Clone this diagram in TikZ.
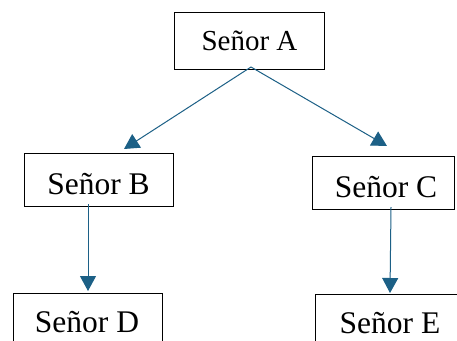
\documentclass[tikz,border=0pt]{standalone}
\usepackage{fontspec}
\setmainfont{Liberation Serif}
\usetikzlibrary{arrows.meta}
\definecolor{arrowblue}{RGB}{28,96,134}
\begin{document}
\begin{tikzpicture}[x=1pt,y=-1pt,
  box/.style={draw=black,line width=0.9pt,minimum width=#1,minimum height=53pt,inner sep=0pt,anchor=north west},
  lbl/.style={font=\fontsize{31.5}{36}\selectfont,inner sep=0pt,anchor=base},
  lblA/.style={font=\fontsize{29}{34}\selectfont,inner sep=0pt,anchor=base},
  conn/.style={draw=arrowblue,line width=1pt,-{Triangle[length=15pt,width=16pt]}}]
\useasboundingbox (0,0) rectangle (457,340);
\clip (0,0) rectangle (457,340);
\fill[white] (0,0) rectangle (457,340);
% boxes
\node[box=150pt,minimum height=57pt] (A) at (174,12) {};
\node[box=149pt] (B) at (24,153) {};
\node[box=142pt] (C) at (312,156) {};
\node[box=149pt] (D) at (13,293) {};
\node[box=150pt] (E) at (315,294) {};
% labels
\node[lblA] (At) at (249.5,50) {Señor A};
\node[lbl] (Bt) at (98.5,194) {Señor B};
\node[lbl] (Ct) at (386,197) {Señor C};
\node[lbl] (Dt) at (87,332) {Señor D};
\node[lbl] (Et) at (390,333) {Señor E};
% connector ends
\coordinate (a0) at (251,67);
\coordinate (tB) at (124,149);
\coordinate (tC) at (387,146);
\coordinate (b0) at (88,204);
\coordinate (tD) at (88,291);
\coordinate (c0) at (391,207);
\coordinate (tE) at (390,293);
\draw[conn] (a0) -- (tB);
\draw[conn] (a0) -- (tC);
\draw[conn] (b0) -- (tD);
\draw[conn] (c0) -- (tE);
\end{tikzpicture}
\end{document}
